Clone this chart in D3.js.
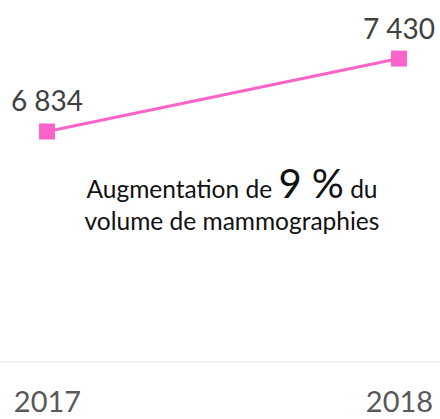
<!doctype html>
<html>
<head>
    <script src="https://d3js.org/d3.v7.min.js"></script>
    <style>
        body { margin: 0; background: #fff; }
        text { font-family: Lato, "Open Sans", sans-serif; }
    </style>
</head>
<body>
    <svg width="440" height="419"></svg>
    <script>
        var years = ["2017", "2018"];
        var values = [6834, 7430];
        var valueLabels = ["6 834", "7 430"];

        var width = 440;
        var height = 419;
        var pink = "#fa64c8";

        var x = d3.scalePoint()
            .domain(years)
            .range([47, 399]);

        var y = d3.scaleLinear()
            .domain([4950, 7500])
            .range([362, 50]);

        var svg = d3.select("svg");

        // baseline
        svg.append("line")
            .attr("x1", 0).attr("x2", width)
            .attr("y1", y(4950)).attr("y2", y(4950))
            .attr("stroke", "#ececec")
            .attr("stroke-width", 1.5);

        // year labels
        var xAxis = d3.axisBottom(x).tickSize(0).tickPadding(0);
        var ax = svg.append("g")
            .attr("transform", "translate(0,391)")
            .call(xAxis);
        ax.select(".domain").remove();
        ax.selectAll("text")
            .attr("fill", "#595959")
            .style("font-size", "29px")
            .style("font-family", "Lato, sans-serif");

        var pts = years.map(function (d, i) { return { year: d, value: values[i], label: valueLabels[i] }; });

        svg.append("path")
            .datum(pts)
            .attr("fill", "none")
            .attr("stroke", pink)
            .attr("stroke-width", 3)
            .attr("d", d3.line()
                .x(function (d) { return x(d.year); })
                .y(function (d) { return y(d.value); }));

        svg.selectAll("rect.marker")
            .data(pts)
            .enter()
            .append("rect")
            .attr("class", "marker")
            .attr("x", function (d) { return x(d.year) - 8; })
            .attr("y", function (d) { return y(d.value) - 8; })
            .attr("width", 16)
            .attr("height", 16)
            .attr("fill", pink);

        svg.selectAll("text.val")
            .data(pts)
            .enter()
            .append("text")
            .attr("class", "val")
            .attr("x", function (d) { return x(d.year); })
            .attr("y", function (d) { return y(d.value) - 20; })
            .attr("text-anchor", "middle")
            .attr("fill", "#404040")
            .style("font-size", "28px")
            .text(function (d) { return d.label; });

        // annotation
        var note = svg.append("text")
            .attr("x", 232)
            .attr("y", 198)
            .attr("text-anchor", "middle")
            .attr("fill", "#111")
            .style("font-size", "24.5px");
        note.append("tspan").text("Augmentation de ");
        note.append("tspan").style("font-size", "40px").text("9 %");
        note.append("tspan").text(" du");

        svg.append("text")
            .attr("x", 232)
            .attr("y", 230)
            .attr("text-anchor", "middle")
            .attr("fill", "#111")
            .style("font-size", "24.5px")
            .text("volume de mammographies");
    </script>
</body>
</html>
